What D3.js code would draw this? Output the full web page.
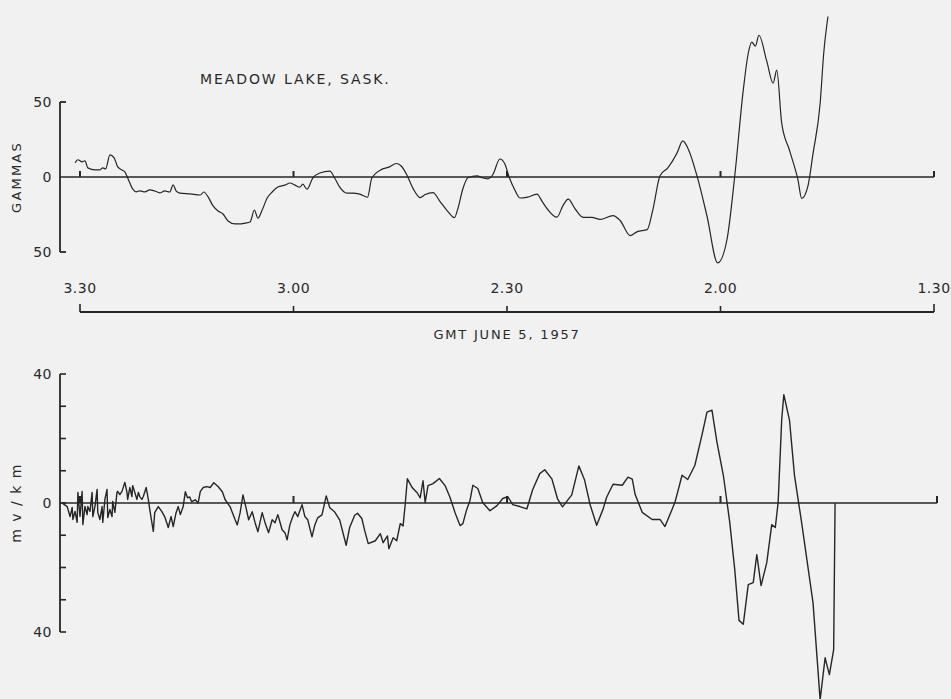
<!DOCTYPE html>
<html><head><meta charset="utf-8">
<script src="https://cdn.jsdelivr.net/npm/d3@7"></script>
<style>
html,body{margin:0;padding:0;background:#f1f1f1;}
svg{display:block;}
text{font-family:"DejaVu Sans",sans-serif;fill:#2a2a2a;}
</style></head><body>
<script>
// ---- data (time in minutes after 00:00 GMT, June 5 1957) ----
const timeTicks = [210, 180, 150, 120, 90];
const timeTickLabels = ["3.30", "3.00", "2.30", "2.00", "1.30"];
const topTicks = [50, 0, -50];
const topTickLabels = ["50", "0", "50"];
const botTicks = [40, 30, 20, 10, 0, -10, -20, -30, -40];
const botLabelTicks = [40, 0, -40];
const botTickLabels = ["40", "0", "40"];

const topTime = [210.7,210.3,209.7,209.3,208.9,207.9,207.2,206.8,206.4,205.8,205.2,204.7,204.1,203.7,203.3,202.6,202.1,201.6,200.9,200.2,199.5,198.8,198.1,197.4,196.9,196.5,196.0,194.5,193.1,192.6,192.0,191.3,190.6,189.9,189.2,188.2,187.5,186.8,186.1,185.5,185.0,184.4,183.7,183.0,182.2,181.2,180.5,179.8,179.1,178.7,178.1,177.3,176.3,174.9,174.2,173.5,172.5,171.7,170.7,169.6,169.0,167.6,166.7,165.5,164.8,164.1,163.2,162.2,161.5,160.4,159.4,158.3,157.4,156.9,156.2,155.5,154.2,153.5,152.7,152.0,151.0,150.3,149.7,148.9,148.2,147.1,145.8,145.0,144.3,143.0,142.1,141.4,140.4,139.3,138.1,136.9,135.1,134.1,132.7,131.7,130.3,129.5,128.5,127.4,126.1,125.3,124.6,123.3,121.9,120.4,119.1,118.0,116.8,116.1,115.6,115.1,114.6,113.5,112.6,112.1,111.4,110.3,109.1,108.6,107.7,107.0,106.0,105.5,104.9];
const topGamma = [9.5,11.5,10.1,10.8,6.1,4.8,4.8,6.1,5.4,14.8,12.8,6.7,4.7,3.4,-0.6,-7.9,-9.9,-9.2,-9.9,-8.6,-9.3,-10.6,-9.3,-10.0,-5.3,-9.3,-10.7,-11.3,-12.0,-10.0,-13.3,-19.3,-22.7,-24.7,-29.3,-31.3,-31.3,-30.7,-30.0,-22.0,-27.4,-22.0,-14.0,-10.0,-6.7,-5.4,-4.0,-5.4,-6.8,-4.8,-8.1,-0.7,2.7,3.9,-0.8,-6.8,-10.8,-10.8,-11.4,-13.5,-0.8,5.1,6.4,9.0,7.0,1.7,-7.6,-13.7,-11.7,-10.4,-16.4,-23.1,-27.1,-21.1,-7.8,-0.5,0.8,-0.5,-1.2,1.5,12.0,8.7,0.0,-8.7,-14.0,-13.4,-11.4,-16.8,-21.5,-26.8,-18.8,-14.8,-21.5,-26.9,-26.9,-28.3,-25.7,-29.0,-39.1,-36.4,-35.1,-21.7,0.8,6.1,16.1,24.1,19.4,0.7,-26.0,-57.3,-42.0,0.5,57.9,82.5,89.9,87.2,94.5,77.2,62.5,71.2,35.9,17.7,-2.3,-14.3,-5.7,15.6,49.0,82.3,107.0];

const botTime = [212.4,211.8,211.4,211.1,211.0,210.7,210.4,210.3,210.0,209.7,209.6,209.3,209.0,208.9,208.6,208.3,208.2,207.9,207.6,207.5,207.2,206.9,206.8,206.5,206.2,206.1,205.8,205.5,205.4,205.1,204.8,204.7,204.4,204.1,203.7,203.4,203.3,203.0,202.7,202.6,202.3,202.0,201.8,201.6,201.3,201.1,200.7,200.4,200.2,199.7,199.5,199.0,198.5,198.1,197.6,197.2,196.9,196.5,196.2,195.9,195.5,195.2,194.9,194.6,194.3,193.8,193.4,193.1,192.7,192.2,191.7,191.2,190.6,190.0,189.6,188.9,188.2,187.9,187.5,187.1,186.7,186.3,185.8,185.4,185.0,184.4,184.0,183.5,183.0,182.6,182.2,181.6,181.2,180.9,180.5,180.1,179.8,179.4,178.8,178.4,178.0,177.4,177.0,176.6,176.0,175.4,174.9,174.2,173.5,172.6,172.1,171.4,171.0,170.4,170.0,169.5,168.5,167.8,167.4,166.8,166.6,166.0,165.5,165.0,164.6,164.3,164.0,163.3,162.6,162.2,161.8,161.5,161.1,160.4,159.5,158.7,158.0,157.3,156.6,156.2,155.7,155.2,154.8,154.1,153.4,152.4,151.4,150.6,149.9,149.2,148.2,147.2,146.4,145.4,144.7,143.7,142.9,142.2,140.9,139.9,139.1,138.3,137.4,136.5,136.0,135.1,133.8,133.0,132.4,132.0,131.0,129.6,128.5,127.8,126.4,125.4,124.6,123.6,122.6,121.9,121.2,120.5,119.6,118.7,118.0,117.4,116.8,116.1,115.4,114.9,114.3,113.5,112.8,112.3,111.9,111.4,111.1,110.3,109.6,108.6,107.0,106.0,105.3,104.7,104.1,103.9];
const botMv = [-0.2,-1.1,-4.2,-1.4,-5.1,-2.6,-6.0,3.3,-4.2,3.6,-6.7,-1.1,-3.6,-1.1,-2.6,3.3,-4.2,-1.1,4.2,-2.9,-5.1,-1.1,-6.0,1.1,4.2,-4.5,-2.0,-4.2,0.5,-2.9,3.3,3.6,2.6,3.6,6.4,3.3,1.1,4.8,2.0,5.4,3.3,1.1,3.3,2.0,1.1,2.0,4.8,1.1,-2.0,-8.8,-3.0,-1.1,-2.7,-4.2,-7.6,-4.2,-7.3,-3.0,-1.1,-3.6,-1.1,3.5,1.6,1.9,0.4,1.0,0.0,3.5,4.8,5.1,4.8,6.3,5.1,3.5,1.0,-1.2,-5.2,-6.8,-3.0,2.5,-1.2,-5.2,-2.7,-6.1,-8.9,-3.0,-6.1,-9.2,-5.2,-6.1,-3.6,-8.3,-9.2,-11.4,-6.7,-4.2,-2.7,-4.2,-0.5,-4.2,-5.2,-10.5,-6.8,-4.6,-3.7,2.2,-1.5,-2.8,-5.3,-13.1,-7.5,-3.8,-3.2,-4.8,-8.5,-12.6,-11.7,-9.5,-12.3,-10.2,-14.2,-10.8,-11.7,-6.4,-7.1,-0.3,7.5,4.7,3.1,1.6,6.9,0.1,5.4,6.0,7.6,5.4,1.7,-3.0,-7.0,-6.4,-2.3,0.8,5.5,4.5,0.1,-2.4,-0.8,1.4,2.0,-0.5,-1.1,-1.8,4.1,9.1,10.3,7.5,1.3,-1.2,2.5,11.5,7.1,-0.7,-6.9,-1.9,1.8,5.8,5.5,8.0,7.4,2.7,-2.9,-5.1,-5.1,-7.3,0.2,8.6,7.3,11.7,21.1,28.2,28.8,18.9,8.6,-6.0,-20.6,-36.4,-37.6,-25.3,-24.7,-16.0,-25.6,-18.5,-6.7,-7.6,0.2,25.9,33.6,25.6,8.5,-6.1,-30.9,-61.0,-48.0,-53.2,-45.5,0.0];

const W = 951, H = 699;
const svg = d3.select("body").append("svg").attr("width", W).attr("height", H);
const ink = "#262626";

const x = d3.scaleLinear().domain([210, 90]).range([80, 934]);
const axisX = 60;
const yTop = d3.scaleLinear().domain([-50, 50]).range([252, 102]);
const yBot = d3.scaleLinear().domain([-40, 40]).range([632, 374]);

// ---------- TOP PANEL ----------
const gt = svg.append("g");
gt.append("line").attr("x1", axisX).attr("x2", axisX).attr("y1", yTop(50)).attr("y2", yTop(-50))
  .attr("stroke", ink).attr("stroke-width", 1.8);
gt.selectAll(".capT").data([50, -50]).join("line")
  .attr("x1", axisX).attr("x2", axisX + 6).attr("y1", d => yTop(d)).attr("y2", d => yTop(d))
  .attr("stroke", ink).attr("stroke-width", 1.8);
gt.selectAll(".lblT").data(topTicks).join("text")
  .attr("x", 52).attr("y", d => yTop(d) + 5).attr("text-anchor", "end")
  .attr("font-size", 14).attr("letter-spacing", 0.5).text((d, i) => topTickLabels[i]);
gt.append("text").attr("transform", `translate(21,${yTop(0)}) rotate(-90)`)
  .attr("text-anchor", "middle").attr("font-size", 13).attr("letter-spacing", 2.2).text("GAMMAS");
gt.append("line").attr("x1", axisX).attr("x2", x(90)).attr("y1", yTop(0)).attr("y2", yTop(0))
  .attr("stroke", ink).attr("stroke-width", 1.4);
gt.selectAll(".zt").data(timeTicks).join("line")
  .attr("x1", d => x(d)).attr("x2", d => x(d)).attr("y1", yTop(0)).attr("y2", yTop(0) - 6)
  .attr("stroke", ink).attr("stroke-width", 2);
gt.append("text").attr("x", 200).attr("y", 84).attr("font-size", 14).attr("letter-spacing", 1.9)
  .text("MEADOW LAKE, SASK.");
const lineTop = d3.line().x((d, i) => x(topTime[i])).y(d => yTop(d)).curve(d3.curveMonotoneX);
gt.append("path").datum(topGamma).attr("d", lineTop).attr("fill", "none")
  .attr("stroke", ink).attr("stroke-width", 1.2).attr("stroke-linejoin", "round");

// ---------- TIME AXIS ----------
const ta = svg.append("g");
const axisY = 312;
ta.append("line").attr("x1", x(210)).attr("x2", x(90)).attr("y1", axisY).attr("y2", axisY)
  .attr("stroke", ink).attr("stroke-width", 1.8);
ta.selectAll(".tt").data(timeTicks).join("line")
  .attr("x1", d => x(d)).attr("x2", d => x(d)).attr("y1", axisY)
  .attr("y2", (d, i) => axisY - ((i === 0 || i === timeTicks.length - 1) ? 8 : 6))
  .attr("stroke", ink).attr("stroke-width", 1.6);
ta.selectAll(".tl").data(timeTicks).join("text")
  .attr("x", d => x(d)).attr("y", 293).attr("text-anchor", "middle").attr("font-size", 14)
  .attr("letter-spacing", 0.5).text((d, i) => timeTickLabels[i]);
ta.append("text").attr("x", x(150)).attr("y", 339).attr("text-anchor", "middle")
  .attr("font-size", 13).attr("letter-spacing", 1.8).text("GMT  JUNE 5, 1957");

// ---------- BOTTOM PANEL ----------
const gb = svg.append("g");
gb.append("line").attr("x1", axisX).attr("x2", axisX).attr("y1", yBot(40)).attr("y2", yBot(-40))
  .attr("stroke", ink).attr("stroke-width", 1.8);
gb.selectAll(".bt").data(botTicks).join("line")
  .attr("x1", axisX).attr("x2", axisX + 6).attr("y1", d => yBot(d)).attr("y2", d => yBot(d))
  .attr("stroke", ink).attr("stroke-width", 1.6);
gb.selectAll(".bl").data(botLabelTicks).join("text")
  .attr("x", 52).attr("y", d => yBot(d) + 5).attr("text-anchor", "end")
  .attr("font-size", 14).attr("letter-spacing", 0.5).text((d, i) => botTickLabels[i]);
gb.append("text").attr("transform", `translate(21,${yBot(0)}) rotate(-90)`)
  .attr("text-anchor", "middle").attr("font-size", 14).attr("letter-spacing", 1.5).text("m v / k m");
gb.append("line").attr("x1", axisX).attr("x2", x(90) + 3).attr("y1", yBot(0)).attr("y2", yBot(0))
  .attr("stroke", ink).attr("stroke-width", 1.4);
gb.selectAll(".bz").data(timeTicks).join("line")
  .attr("x1", (d, i) => x(d) + (i === timeTicks.length - 1 ? 3 : 0))
  .attr("x2", (d, i) => x(d) + (i === timeTicks.length - 1 ? 3 : 0))
  .attr("y1", yBot(0)).attr("y2", yBot(0) - 7)
  .attr("stroke", ink).attr("stroke-width", 2);
const lineBot = d3.line().x((d, i) => x(botTime[i])).y(d => yBot(d)).curve(d3.curveLinear);
gb.append("path").datum(botMv).attr("d", lineBot).attr("fill", "none")
  .attr("stroke", ink).attr("stroke-width", 1.4).attr("stroke-linejoin", "round");
</script>
</body></html>
